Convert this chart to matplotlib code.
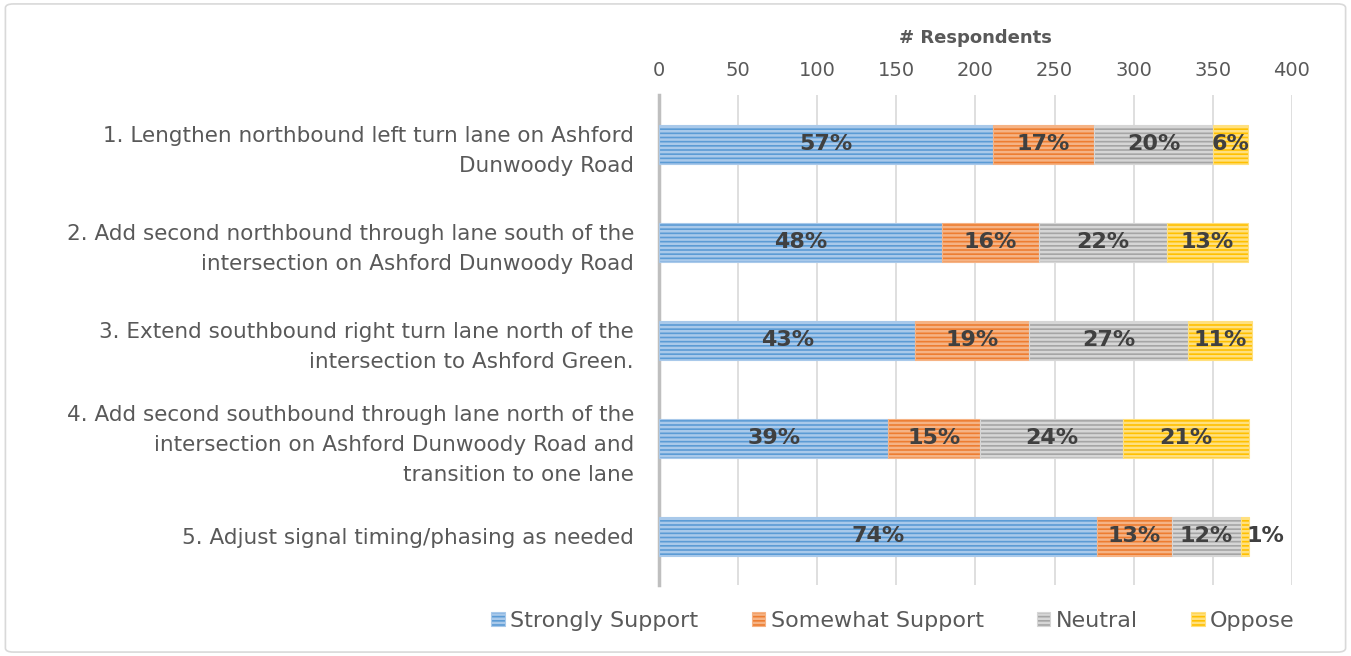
import numpy as np
import matplotlib
matplotlib.use("Agg")
import matplotlib.pyplot as plt
from matplotlib.patches import FancyBboxPatch

plt.rcParams['font.family'] = ['DejaVu Sans']
plt.rcParams['hatch.linewidth'] = 1.8

categories = [
    "1. Lengthen northbound left turn lane on Ashford\nDunwoody Road",
    "2. Add second northbound through lane south of the\nintersection on Ashford Dunwoody Road",
    "3. Extend southbound right turn lane north of the\nintersection to Ashford Green.",
    "4. Add second southbound through lane north of the\nintersection on Ashford Dunwoody Road and\ntransition to one lane",
    "5. Adjust signal timing/phasing as needed",
]
series = ["Strongly Support", "Somewhat Support", "Neutral", "Oppose"]
strongly = [211, 179, 162, 145, 277]
somewhat = [64, 61, 72, 58, 47]
neutral = [75, 81, 100, 90, 44]
oppose = [22, 51, 41, 80, 5]
pct_labels = [
    ["57%", "48%", "43%", "39%", "74%"],
    ["17%", "16%", "19%", "15%", "13%"],
    ["20%", "22%", "27%", "24%", "12%"],
    ["6%", "13%", "11%", "21%", "1%"],
]
xticks = [0, 50, 100, 150, 200, 250, 300, 350, 400]

face = ['#5B9BD5', '#ED7D31', '#A5A5A5', '#FFC000']
stripe = ['#A9C9EA', '#F5B385', '#D6D6D6', '#FFE07F']
txt = '#595959'

fig = plt.figure(figsize=(13.51, 6.56), dpi=100)
fig.patches.append(FancyBboxPatch((0.004, 0.006), 0.992, 0.988,
                                  boxstyle="round,pad=0,rounding_size=0.006",
                                  transform=fig.transFigure, fill=False,
                                  edgecolor='#D9D9D9', linewidth=1.2))
ax = fig.add_axes([0.4878, 0.108, 0.4685, 0.747])

values = [strongly, somewhat, neutral, oppose]
y = np.arange(len(categories))
left = np.zeros(len(categories))
for i, vals in enumerate(values):
    vals = np.array(vals, dtype=float)
    ax.barh(y, vals, left=left, height=0.4, color=face[i], edgecolor=stripe[i],
            linewidth=0.8, hatch='----', label=series[i], zorder=3)
    for j in range(len(y)):
        cx = left[j] + vals[j] / 2
        if vals[j] < 10:
            cx = left[j] + vals[j] + 10
        ax.text(cx, y[j], pct_labels[i][j], ha='center', va='center',
                fontsize=16, fontweight='bold', color='#404040', zorder=4)
    left += vals

ax.set_xlim(0, 400)
ax.set_ylim(len(categories) - 0.5, -0.5)
ax.set_xticks(xticks)
ax.xaxis.tick_top()
ax.xaxis.set_label_position('top')
ax.set_xlabel('# Respondents', fontsize=13, fontweight='bold', color=txt, labelpad=13)
ax.tick_params(axis='x', length=0, labelsize=14, labelcolor=txt, pad=11)
ax.set_yticks(y)
ax.set_yticklabels(categories, fontsize=15.5, color=txt, linespacing=1.6)
ax.tick_params(axis='y', length=0, pad=18)
ax.grid(axis='x', color='#D9D9D9', linewidth=1.2, zorder=0)
for s in ['top', 'right', 'bottom']:
    ax.spines[s].set_visible(False)
ax.spines['left'].set_color('#BFBFBF')
ax.spines['left'].set_linewidth(2.5)

leg = fig.legend(loc='center', bbox_to_anchor=(0.661, 0.054), ncol=4, frameon=False,
                 fontsize=16, handlelength=0.6, handleheight=0.6, handletextpad=0.25,
                 columnspacing=2.4)
for t in leg.get_texts():
    t.set_color(txt)

fig.savefig('out.png', dpi=100)
